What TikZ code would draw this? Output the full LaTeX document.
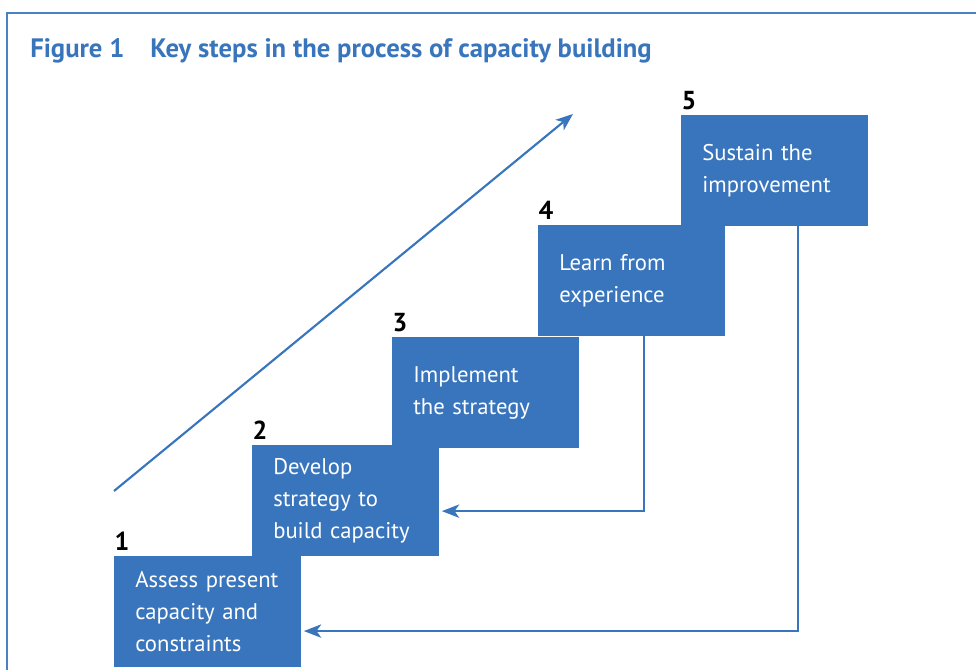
\documentclass[tikz,border=0pt]{standalone}
\usepackage{fontspec}
\setmainfont{PT Sans}
\usepackage{xcolor}
\usetikzlibrary{arrows.meta, calc}
\definecolor{stepblue}{RGB}{57,117,188}
\definecolor{frameblue}{RGB}{74,128,196}

\begin{document}
\begin{tikzpicture}[x=0.75pt, y=-0.75pt, >={Stealth[length=13pt, width=10pt, inset=3.5pt]},
    stepbox/.style={fill=stepblue, text=white, anchor=north west, align=left,
      text width=108.5pt, minimum height=83pt, inner xsep=15.75pt, inner ysep=0pt,
      font=\fontsize{17}{24}\selectfont},
    stepnum/.style={anchor=south west, inner sep=0pt, font=\fontsize{19.5}{19.5}\selectfont\bfseries},
    heading/.style={anchor=base west, inner sep=0pt, text=stepblue, font=\fontsize{20}{22}\selectfont\bfseries},
    flow/.style={->, draw=stepblue, line width=1.6pt}]
  \useasboundingbox (0,0) rectangle (976,670);
  % open frame, left and top sides only
  \draw[frameblue, line width=1.5pt] (7,672) -- (7,13) -- (978,13);
  \node[heading] (fig) at (30,58) {Figure 1};
  \node[heading] (caption) at (150,58) {Key steps in the process of capacity building};
  % the five steps
  \foreach \i/\x/\y/\txt in {1/114/556/{Assess present\\capacity and\\constraints},
      2/252/445/{Develop\\strategy to\\build capacity},
      3/392/337/{Implement\\the strategy},
      4/538/225/{Learn from\\experience},
      5/681/115/{Sustain the\\improvement}}{
    \node[stepbox] (s\i) at (\x,\y) {\txt};
    \node[stepnum] (n\i) at ([xshift=0.3pt, yshift=3.7pt]s\i.north west) {\i};
  }
  % rising arrow
  \coordinate (rise) at (114,491);
  \coordinate (top) at (573,114);
  \draw[flow] (rise) -- (top);
  % feedback loops
  \draw[flow, shorten >=2pt] ([xshift=9.4pt]s4.south) |- ([yshift=-7.9pt]s2.east);
  \draw[flow, shorten >=2pt] ([xshift=17.6pt]s5.south) |- ([yshift=-14.6pt]s1.east);
\end{tikzpicture}
\end{document}
